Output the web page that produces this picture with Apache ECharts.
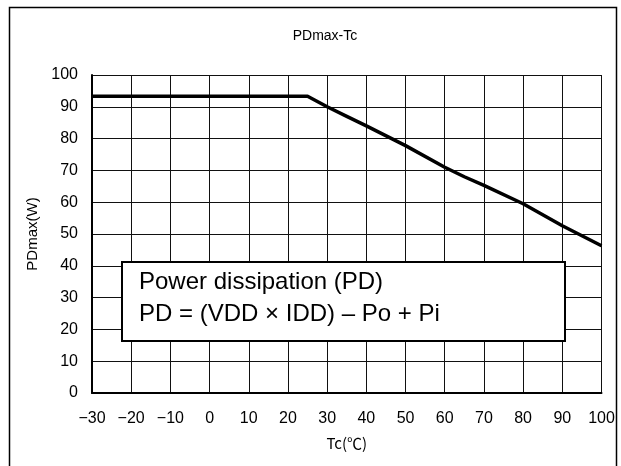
<!DOCTYPE html>
<html>
<head>
<meta charset="utf-8">
<script src="https://cdn.jsdelivr.net/npm/echarts@6/dist/echarts.min.js"></script>
<style>html,body{margin:0;padding:0;background:#fff}#c{width:621px;height:466px}</style>
</head>
<body>
<div id="c"></div>
<script>
var titleText = 'PDmax-Tc';
var xName = 'Tc(℃)';
var yName = 'PDmax(W)';
var tcValues = [-30, 25, 30, 35, 40, 50, 60, 65, 70, 80, 90, 100];
var pdValues = [93.3, 93.3, 90, 87, 84, 77.8, 71, 68, 65.3, 59.5, 52.6, 46.3];
var xTicks = [-30, -20, -10, 0, 10, 20, 30, 40, 50, 60, 70, 80, 90, 100];
var yTicks = [0, 10, 20, 30, 40, 50, 60, 70, 80, 90, 100];
var noteLines = ['Power dissipation (PD)', 'PD = (VDD × IDD) – Po + Pi'];

var FONT = '"Liberation Sans", Arial, sans-serif';
var chart = echarts.init(document.getElementById('c'), null, {renderer: 'canvas'});
var option = {
  animation: false,
  backgroundColor: '#fff',
  title: {
    text: titleText, left: 320, top: 24, textAlign: 'center',
    textStyle: {fontFamily: FONT, fontSize: 14, fontWeight: 'normal', color: '#000'}
  },
  grid: {left: 92, top: 75, right: 19.5, bottom: 73, show: false},
  xAxis: {
    type: 'value', min: xTicks[0], max: xTicks[xTicks.length - 1], interval: 10,
    name: xName, nameLocation: 'middle', nameGap: 43,
    nameTextStyle: {fontFamily: '"Noto Sans CJK JP", sans-serif', fontSize: 15, color: '#000'},
    axisLine: {show: true, onZero: false, lineStyle: {color: '#000', width: 2}},
    axisTick: {show: false},
    axisLabel: {fontFamily: FONT, fontSize: 16, color: '#000', margin: 18,
      formatter: function (v) { return String(v).replace('-', '−'); }},
    splitLine: {show: true, lineStyle: {color: '#111', width: 1}}
  },
  yAxis: {
    type: 'value', min: yTicks[0], max: yTicks[yTicks.length - 1], interval: 10,
    name: yName, nameLocation: 'middle', nameGap: 47,
    nameTextStyle: {fontFamily: FONT, fontSize: 15, color: '#000'},
    axisLine: {show: true, onZero: false, lineStyle: {color: '#000', width: 2}},
    axisTick: {show: false},
    axisLabel: {fontFamily: FONT, fontSize: 16, color: '#000', margin: 14},
    splitLine: {show: true, lineStyle: {color: '#111', width: 1}}
  },
  series: [{
    type: 'line', symbol: 'none',
    data: tcValues.map(function (t, i) { return [t, pdValues[i]]; }),
    lineStyle: {color: '#000', width: 3.5}
  }],
  graphic: [
    {type: 'rect', shape: {x: 9.5, y: 7.5, width: 607, height: 500},
     style: {fill: null, stroke: '#000', lineWidth: 1.5}, silent: true},
    {type: 'rect', shape: {x: 122, y: 262, width: 443, height: 79},
     style: {fill: '#fff', stroke: '#000', lineWidth: 2}, z: 100},
    {type: 'text', x: 139, y: 282, z: 101,
     style: {text: noteLines[0], fontFamily: FONT, fontSize: 24, fill: '#000', verticalAlign: 'middle'}},
    {type: 'text', x: 139, y: 314, z: 101,
     style: {text: noteLines[1], fontFamily: FONT, fontSize: 24, fill: '#000', verticalAlign: 'middle'}}
  ]
};
chart.setOption(option);
</script>
</body>
</html>
